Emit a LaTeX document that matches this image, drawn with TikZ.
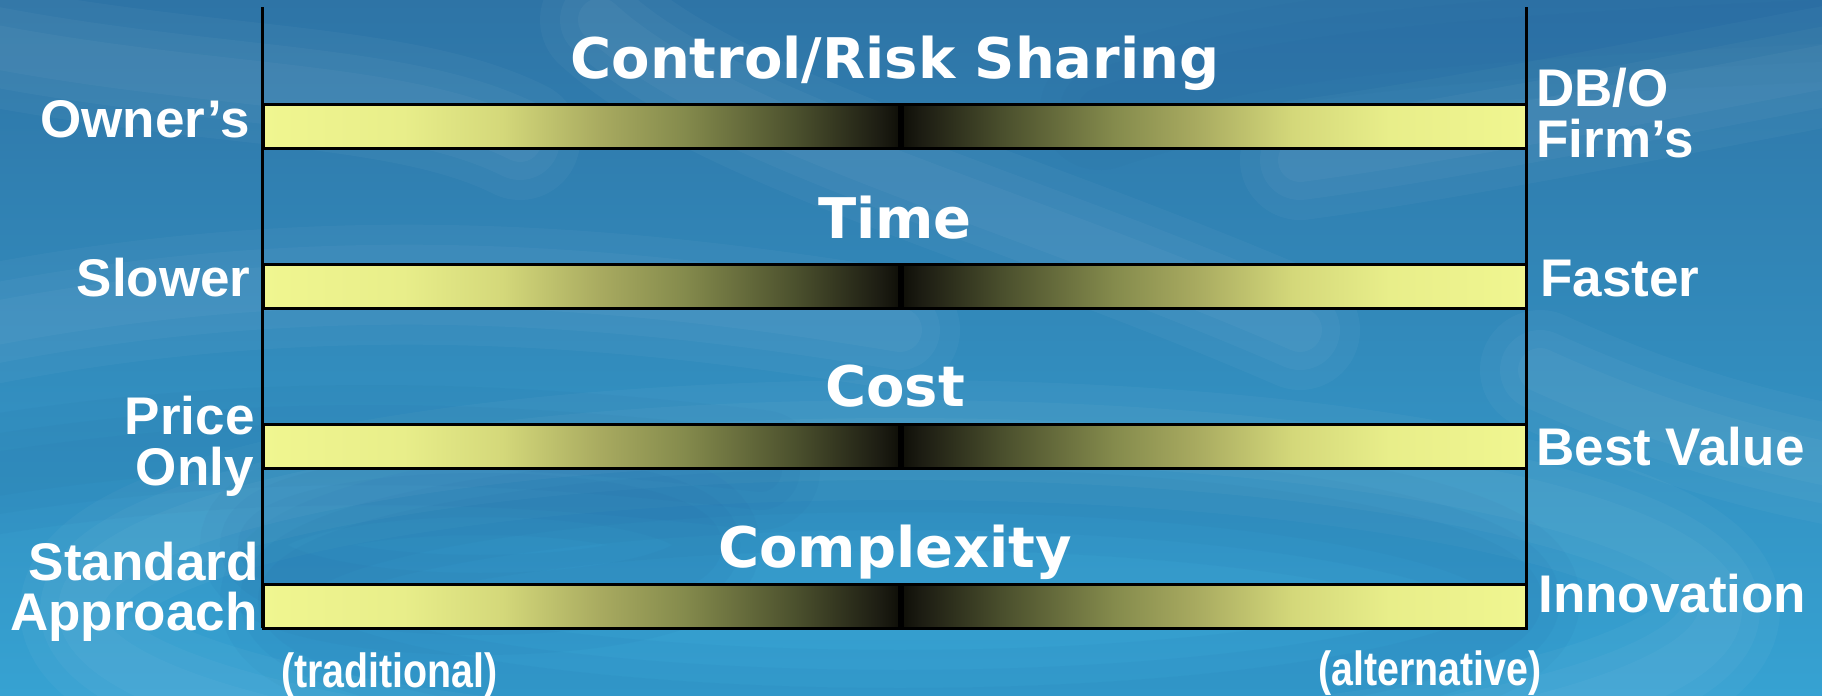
\documentclass[tikz,border=0pt]{standalone}
\usepackage{fontspec}
\usepackage{graphicx}
\setmainfont{Liberation Sans}
\newfontfamily\titlefont{DejaVu Sans}
\definecolor{bgTop}{RGB}{46,116,166}
\definecolor{bgMid}{RGB}{60,142,192}
\definecolor{bgBot}{RGB}{54,162,210}
\definecolor{deepBlue}{RGB}{30,90,150}
\pgfdeclarehorizontalshading{barL}{100bp}{rgb(0bp)=(0.941,0.965,0.565); rgb(25bp)=(0.941,0.965,0.565); rgb(36bp)=(0.910,0.933,0.541); rgb(43.75bp)=(0.831,0.847,0.478); rgb(51.5bp)=(0.659,0.667,0.376); rgb(58bp)=(0.520,0.545,0.300); rgb(67bp)=(0.290,0.310,0.175); rgb(73.5bp)=(0.110,0.110,0.072); rgb(75bp)=(0.059,0.059,0.031); rgb(100bp)=(0.059,0.059,0.031)}
\pgfdeclarehorizontalshading{barR}{100bp}{rgb(0bp)=(0.059,0.059,0.031); rgb(25bp)=(0.059,0.059,0.031); rgb(26.5bp)=(0.110,0.110,0.072); rgb(33bp)=(0.290,0.310,0.175); rgb(42bp)=(0.520,0.545,0.300); rgb(48.5bp)=(0.659,0.667,0.376); rgb(56.25bp)=(0.831,0.847,0.478); rgb(64bp)=(0.910,0.933,0.541); rgb(75bp)=(0.941,0.965,0.565); rgb(100bp)=(0.941,0.965,0.565)}
\begin{document}
\begin{tikzpicture}[x=0.5pt,y=-0.5pt,
  lbl/.style={text=white, font=\fontsize{26.5}{26.5}\selectfont\bfseries, inner sep=0pt},
  ttl/.style={text=white, font=\titlefont\fontsize{28}{28}\selectfont\bfseries, inner sep=0pt, anchor=base},
  sublbl/.style={text=white, font=\fontsize{24}{24}\selectfont\bfseries, inner sep=0pt},
  barhalf/.style={draw=black, line width=1.5pt, inner sep=0pt, minimum height=22pt, shade},
  axisline/.style={draw=black, line width=1.5pt},
  softw/.style={white, line width=#1, opacity=0.03, line cap=round},
  softd/.style={deepBlue, line width=#1, opacity=0.05, line cap=round}
]
\useasboundingbox (0,0) rectangle (1822,696);
% background water
\shade[top color=bgTop, middle color=bgMid, bottom color=bgBot] (0,0) rectangle (1822,696);
\begin{scope}
\clip (0,0) rectangle (1822,696);
\foreach \w in {60,40,22}{
  \draw[softw=\w] (600,20) .. controls (720,130) and (1000,200) .. (1300,330);
  \draw[softw=\w] (-40,330) .. controls (300,260) and (600,280) .. (900,330);
  \draw[softw=\w] (1540,370) .. controls (1650,420) and (1750,450) .. (1860,470);
  \draw[softw=\w] (-40,40) .. controls (200,90) and (400,80) .. (520,140);
  \draw[softw=\w] (1300,160) .. controls (1450,140) and (1650,100) .. (1860,60);
  \draw[softd=\w] (900,600) ellipse (620 and 110);
  \draw[softd=\w] (480,545) ellipse (220 and 50);
  \draw[softw=\w] (900,610) ellipse (820 and 170);
  \draw[softd=\w] (-40,480) .. controls (250,430) and (500,440) .. (760,470);
  \draw[softd=\w] (1100,110) .. controls (1250,60) and (1400,40) .. (1860,20);
}
\end{scope}
% axes
\coordinate (lt) at (262,7);
\coordinate (lb) at (262,628);
\coordinate (rt) at (1526,7);
\coordinate (rb) at (1526,628);
\draw[axisline] (lt) -- (lb);
\draw[axisline] (rt) -- (rb);
% bars
\foreach \k/\nm in {0/a,1/b,2/c,3/d}{
  \node[barhalf, shading=barL, minimum width=318pt, anchor=west] (bar\nm L) at (262,126+160*\k) {};
  \node[barhalf, shading=barR, minimum width=312pt, anchor=west] (bar\nm R) at (901,126+160*\k) {};
}
% titles
\node[ttl] (t1) at (895,78) {Control/Risk Sharing};
\node[ttl] (t2) at (895,238) {Time};
\node[ttl] (t3) at (895,406) {Cost};
\node[ttl] (t4) at (895,567) {Complexity};
% left labels
\node[lbl, anchor=base east] (own) at (250,137) {Owner’s};
\node[lbl, anchor=base east] (slo) at (251,296) {Slower};
\node[lbl, anchor=base east] (pri) at (255,434) {Price};
\node[lbl, anchor=base east] (onl) at (254,485) {Only};
\node[lbl, anchor=base east] (std) at (259,580) {Standard};
\node[lbl, anchor=base east] (app) at (258,630) {Approach};
% right labels
\node[lbl, anchor=base west] (dbo) at (1536,106) {DB/O};
\node[lbl, anchor=base west] (fir) at (1536,157) {Firm’s};
\node[lbl, anchor=base west] (fas) at (1540,296) {Faster};
\node[lbl, anchor=base west] (bes) at (1536,465) {Best Value};
\node[lbl, anchor=base west] (inn) at (1538,612) {Innovation};
% bottom labels
\node[sublbl, anchor=base west] (tra) at (281,687) {\scalebox{0.82}[1]{(traditional)}};
\node[sublbl, anchor=base east] (alt) at (1542,685) {\scalebox{0.82}[1]{(alternative)}};
\end{tikzpicture}
\end{document}
